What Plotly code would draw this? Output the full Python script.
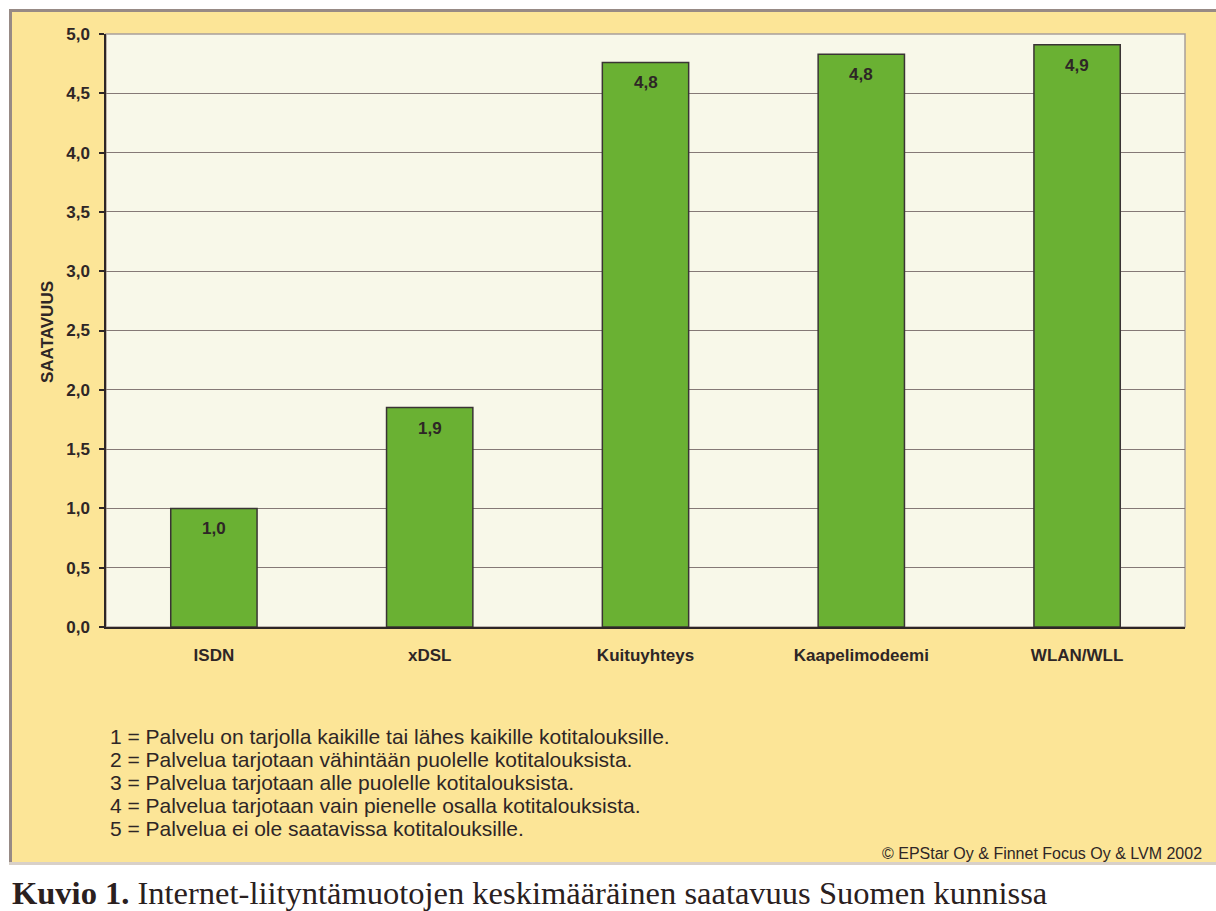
import plotly.graph_objects as go

categories = ["ISDN", "xDSL", "Kuituyhteys", "Kaapelimodeemi", "WLAN/WLL"]
values = [1.0, 1.85, 4.76, 4.83, 4.91]
value_labels = ["1,0", "1,9", "4,8", "4,8", "4,9"]
y_ticks = [0, 0.5, 1, 1.5, 2, 2.5, 3, 3.5, 4, 4.5, 5]
y_title = "SAATAVUUS"
legend_lines = [
    "1 = Palvelu on tarjolla kaikille tai lähes kaikille kotitalouksille.",
    "2 = Palvelua tarjotaan vähintään puolelle kotitalouksista.",
    "3 = Palvelua tarjotaan alle puolelle kotitalouksista.",
    "4 = Palvelua tarjotaan vain pienelle osalla kotitalouksista.",
    "5 = Palvelua ei ole saatavissa kotitalouksille.",
]
copyright_text = "© EPStar Oy & Finnet Focus Oy & LVM 2002"
caption_bold = "Kuvio 1."
caption_rest = " Internet-liityntämuotojen keskimääräinen saatavuus Suomen kunnissa"

W, H = 1216, 911
L, R, T, B = 106, 31, 34, 284
PW, PH = W - L - R, H - T - B

def px(x):
    return (x - L) / PW

def py(y):
    return (H - B - y) / PH

YELLOW = "#FCE597"
PLOTBG = "#F8F8E9"
GREEN = "#6AB133"
DARK = "#2E2626"
GRID = "#857976"
SANS = "Liberation Sans, Arial"

fig = go.Figure()
fig.add_trace(go.Bar(
    x=categories, y=values, width=0.4,
    marker=dict(color=GREEN, line=dict(color="#3A3434", width=1.5)),
    hoverinfo="skip",
))

annotations = []
for c, v, t in zip(categories, values, value_labels):
    annotations.append(dict(x=c, y=v, xref="x", yref="y", text=t, showarrow=False,
                            yanchor="top", yshift=-9,
                            font=dict(family=SANS, size=17, color=DARK, weight="bold")))

annotations.append(dict(x=px(47), y=py(332), xref="paper", yref="paper", text=y_title, textangle=-90,
                        showarrow=False, xanchor="center", yanchor="middle",
                        font=dict(family=SANS, size=17, color=DARK, weight="bold")))

for i, line in enumerate(legend_lines):
    annotations.append(dict(x=px(108), y=py(736 + i * 23.2), xref="paper", yref="paper", text=line,
                            showarrow=False, xanchor="left", yanchor="middle",
                            font=dict(family=SANS, size=21, color=DARK)))

annotations.append(dict(x=px(1204), y=py(853), xref="paper", yref="paper", text=copyright_text,
                        showarrow=False, xanchor="right", yanchor="middle",
                        font=dict(family=SANS, size=16, color=DARK)))

annotations.append(dict(x=px(10), y=py(893), xref="paper", yref="paper",
                        text="<b>" + caption_bold + "</b>" + caption_rest,
                        showarrow=False, xanchor="left", yanchor="middle",
                        font=dict(family="Liberation Serif, Times New Roman", size=32.5, color="#2A2020")))

shapes = [
    dict(type="rect", xref="paper", yref="paper", x0=px(9), x1=px(1216), y0=py(862), y1=py(9),
         fillcolor=YELLOW, line=dict(width=0), layer="below"),
    dict(type="rect", xref="paper", yref="paper", x0=0, x1=1, y0=0, y1=1,
         fillcolor=PLOTBG, line=dict(color="#A89E9A", width=1.5), layer="below"),
    dict(type="line", xref="paper", yref="paper", x0=px(9), x1=px(1216), y0=py(10.5), y1=py(10.5),
         line=dict(color="#978A85", width=3)),
    dict(type="line", xref="paper", yref="paper", x0=px(10.5), x1=px(10.5), y0=py(862), y1=py(9),
         line=dict(color="#978A85", width=3)),
    dict(type="line", xref="paper", yref="paper", x0=px(9), x1=px(1216), y0=py(863.5), y1=py(863.5),
         line=dict(color="#D8D0C8", width=3)),
]

fig.update_layout(
    width=W, height=H,
    margin=dict(l=L, r=R, t=T, b=B, autoexpand=False),
    paper_bgcolor="white",
    plot_bgcolor=PLOTBG,
    separators=",.",
    showlegend=False,
    bargap=0.6,
    annotations=annotations,
    shapes=shapes,
    xaxis=dict(
        showgrid=False, showline=True, linecolor=DARK, linewidth=1.5,
        ticks="", ticklabelstandoff=12,
        tickfont=dict(family=SANS, size=17, color=DARK, weight="bold"),
        fixedrange=True,
    ),
    yaxis=dict(
        range=[0, 5], tickvals=y_ticks, tickformat=".1f",
        showgrid=True, gridcolor=GRID, gridwidth=1,
        showline=True, linecolor=DARK, linewidth=1.5,
        ticks="outside", ticklen=5, tickcolor=DARK, tickwidth=1.5, ticklabelstandoff=6,
        tickfont=dict(family=SANS, size=17, color=DARK, weight="bold"),
        zeroline=False, fixedrange=True,
    ),
)

fig.write_html("out.html")
